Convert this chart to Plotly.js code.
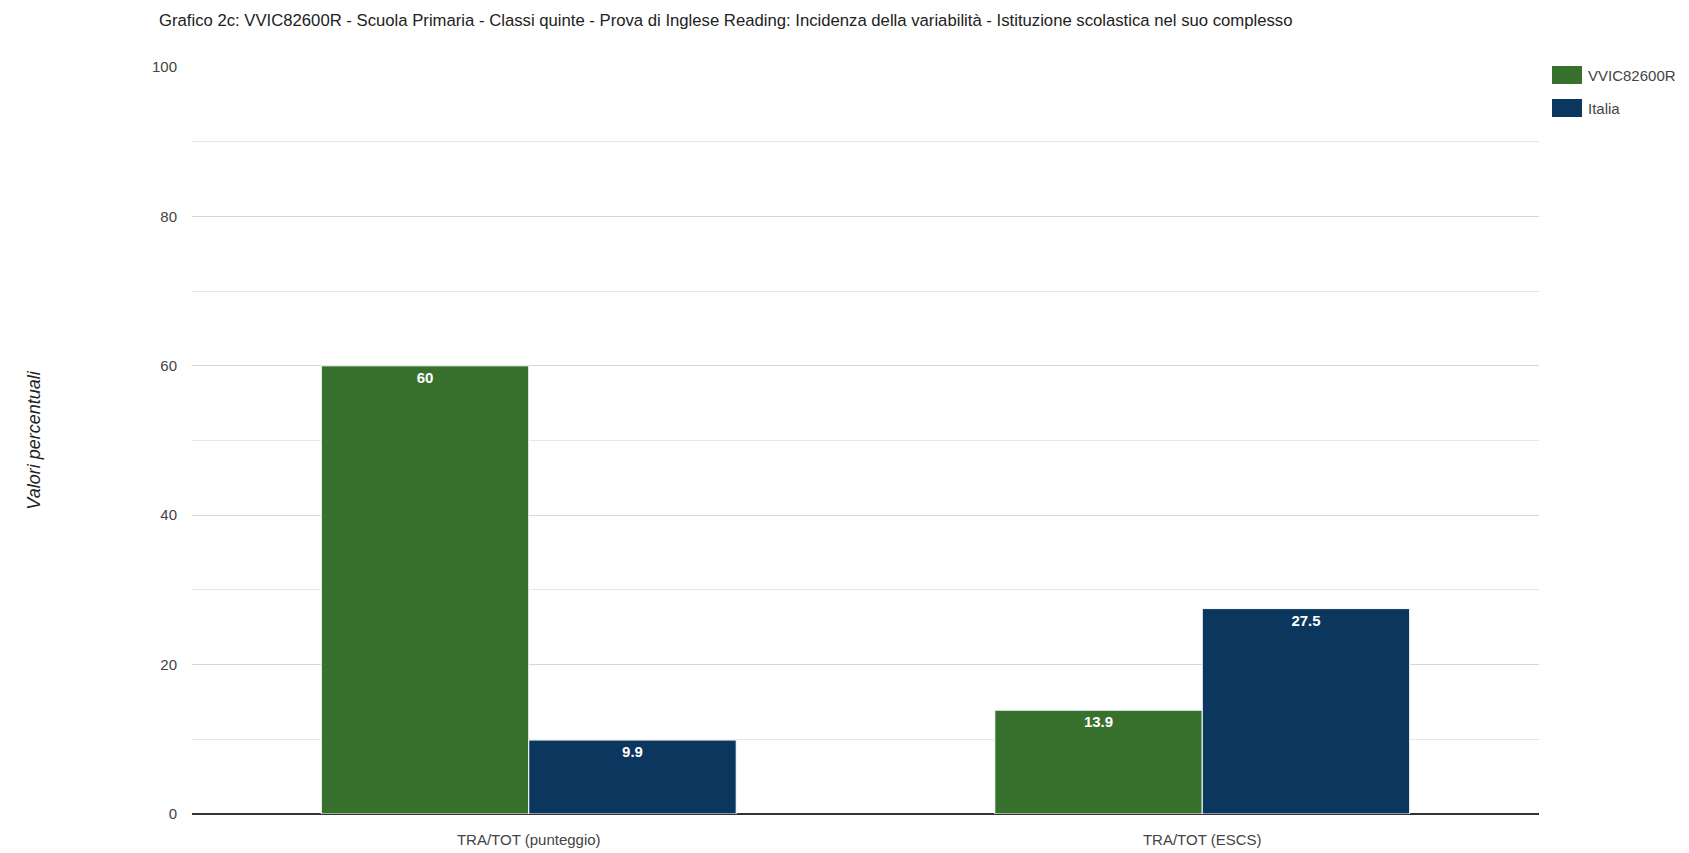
<!DOCTYPE html>
<html>
<head>
<meta charset="utf-8">
<script src="https://cdn.plot.ly/plotly-3.0.1.min.js"></script>
<style>html,body{margin:0;padding:0;background:#fff;}#chart{width:1689px;height:853px;}</style>
</head>
<body>
<div id="chart"></div>
<script>
const categories = ["TRA/TOT (punteggio)", "TRA/TOT (ESCS)"];
const seriesNames = ["VVIC82600R", "Italia"];
const seriesColors = ["#37712d", "#0b365d"];
const schoolValues = [60, 13.9];
const italiaValues = [9.9, 27.5];
const yTickValues = [0, 20, 40, 60, 80, 100];
const yTickLabels = ["0", "20", "40", "60", "80", "100"];

const FONT = "'Liberation Sans', Arial, sans-serif";
const W = 1689, H = 853;
const M = {l: 192, r: 150, t: 67, b: 39};
const plotW = W - M.l - M.r, plotH = H - M.t - M.b;
const px2x = p => (p - M.l) / plotW;
const px2y = p => (H - M.b - p) / plotH;

function barTrace(i, values) {
  return {
    type: "bar", name: seriesNames[i], x: categories, y: values,
    marker: {color: seriesColors[i], line: {color: "#ffffff", width: 1}},
    text: values.map(String), textposition: "inside", insidetextanchor: "end",
    textfont: {family: FONT, size: 15, color: "#ffffff", weight: "bold"},
    hoverinfo: "x+y", showlegend: false
  };
}

const traces = [barTrace(0, schoolValues), barTrace(1, italiaValues)];

// custom legend (larger swatches as in reference)
const legendShapes = [];
const legendAnnots = [];
const legRowsPx = [[66, 84], [99, 117]];
seriesNames.forEach((name, i) => {
  legendShapes.push({type: "rect", xref: "paper", yref: "paper",
    x0: px2x(1552), x1: px2x(1582), y0: px2y(legRowsPx[i][1]), y1: px2y(legRowsPx[i][0]),
    fillcolor: seriesColors[i], line: {width: 0}});
  legendAnnots.push({xref: "paper", yref: "paper", x: px2x(1586), xanchor: "left",
    y: px2y((legRowsPx[i][0] + legRowsPx[i][1]) / 2), yanchor: "middle", showarrow: false,
    text: name, font: {family: FONT, size: 15, color: "#444444"}});
});

const layout = {
  width: W, height: H,
  margin: M,
  paper_bgcolor: "#ffffff", plot_bgcolor: "#ffffff",
  font: {family: FONT, size: 15, color: "#444444"},
  title: {text: "Grafico 2c: VVIC82600R - Scuola Primaria - Classi quinte - Prova di Inglese Reading: Incidenza della variabilità - Istituzione scolastica nel suo complesso",
    x: 159/W, xanchor: "left", y: 1 - 20/H, yanchor: "middle",
    font: {family: FONT, size: 16.7, color: "#222222"}},
  barmode: "group", bargap: 0.384, bargroupgap: 0,
  xaxis: {
    showgrid: false, zeroline: false, showline: false, ticks: "",
    ticklabelstandoff: 15,
    tickfont: {family: FONT, size: 15, color: "#444444"}, automargin: false
  },
  yaxis: {
    range: [0, 100], tickvals: yTickValues, ticktext: yTickLabels,
    showgrid: true, gridcolor: "#d6d6d6", gridwidth: 1,
    minor: {dtick: 10, showgrid: true, gridcolor: "#e6e6e6", gridwidth: 1},
    zeroline: true, zerolinecolor: "#333333", zerolinewidth: 2,
    showline: false, ticks: "", ticklabelstandoff: 14,
    tickfont: {family: FONT, size: 15, color: "#444444"},
    title: {text: "<i>Valori percentuali</i>", standoff: 106, font: {family: FONT, size: 18, color: "#222222"}},
    automargin: false
  },
  shapes: legendShapes,
  annotations: legendAnnots,
  showlegend: false
};

Plotly.newPlot("chart", traces, layout, {displayModeBar: false, staticPlot: true});
</script>
</body>
</html>
